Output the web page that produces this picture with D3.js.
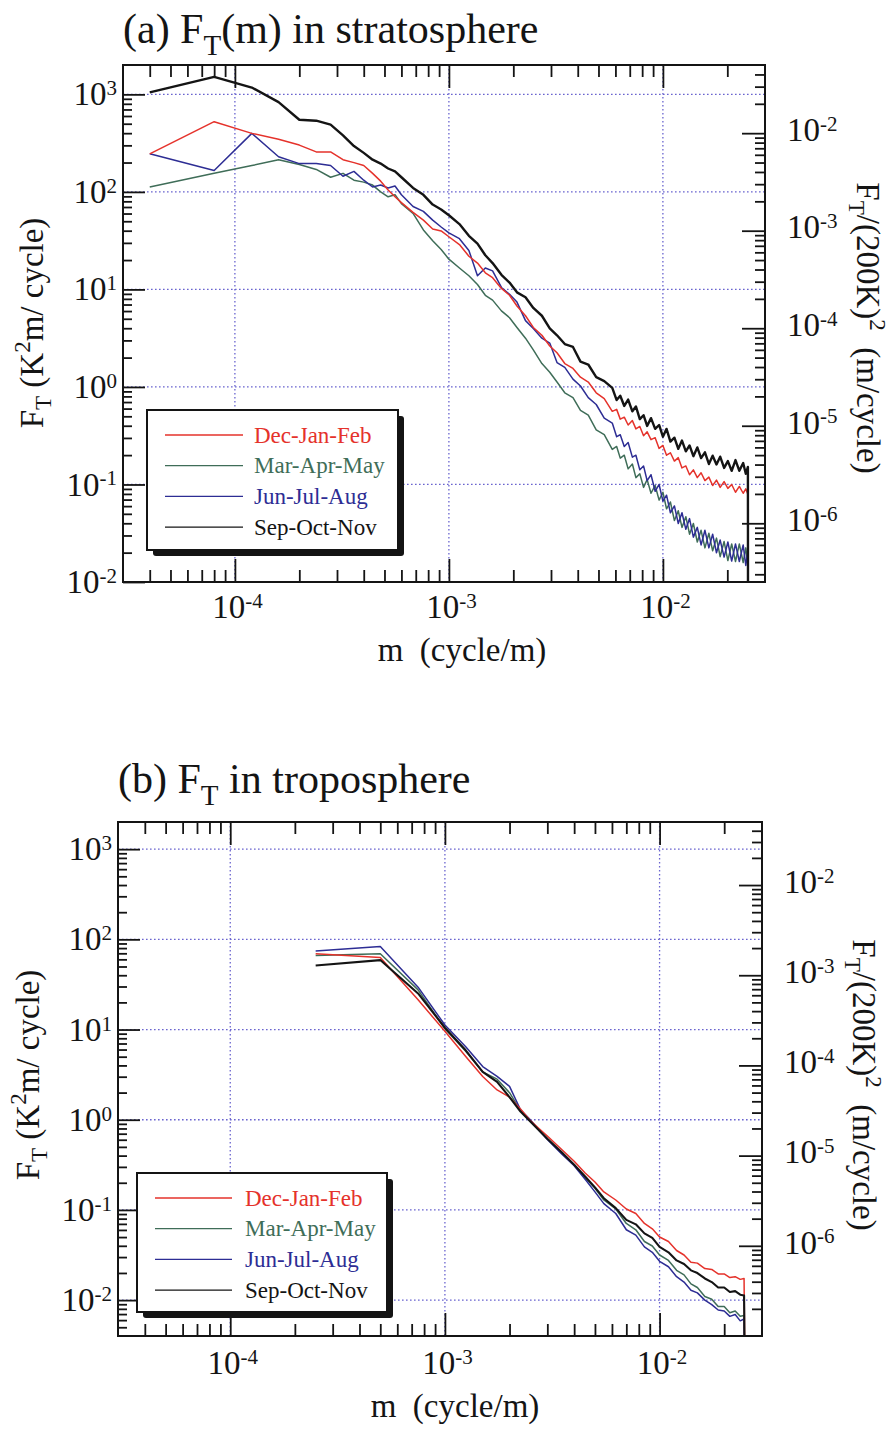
<!DOCTYPE html>
<html lang="en">
<head>
<meta charset="UTF-8" />
<title>F_T(m) in stratosphere and troposphere</title>
<script src="https://cdn.jsdelivr.net/npm/d3@7"></script>
<style>
  html, body { margin: 0; padding: 0; background: #fff; }
  svg { display: block; }
  text { font-family: "Liberation Serif", "Times New Roman", serif; fill: #141414; white-space: pre; }
</style>
</head>
<body>
<script>
// Seasons, in legend order
const seasons = ["Dec-Jan-Feb", "Mar-Apr-May", "Jun-Jul-Aug", "Sep-Oct-Nov"];
const seasonColors = ["#e5322b", "#3f6d58", "#2d2d94", "#141414"];
const drawOrder = [1, 2, 0, 3];   // MAM, JJA, DJF, SON on top

// (a) stratosphere: m = k * 4e-5 cycle/m, values are log10 F_T (K^2 m/cycle)
const stratDm = 4e-5;
const stratK = [1, 2, 3, 4, 5, 6, 7, 8, 9, 10, 11, 12, 13, 14, 15, 17, 19, 21, 23, 25,
  28, 31, 34, 37, 40, 44, 48, 52, 57, 62, 68, 74, 80, 87, 95, 103, 112, 122, 133,
  145, 152, 158, 165, 172, 180, 187, 195, 203, 211, 220, 230, 240, 250, 260, 271, 283, 295, 307,
  320, 333, 347, 362, 377, 393, 410, 427, 445, 463, 483, 503, 524, 546, 569, 593, 610, 624, 625];
const stratDJF = [2.39, 2.72, 2.60, 2.54, 2.48, 2.41, 2.41, 2.33, 2.30, 2.27, 2.19, 2.11, 2.02, 1.95, 1.89, 1.79, 1.71, 1.62, 1.60, 1.54,
  1.46, 1.34, 1.27, 1.17, 1.12, 1.01, 0.94, 0.83, 0.73, 0.61, 0.53, 0.42, 0.35, 0.24, 0.19, 0.10, 0.05, -0.06, -0.12,
  -0.25, -0.23, -0.33, -0.31, -0.39, -0.345, -0.43, -0.405, -0.50, -0.46, -0.54, -0.52, -0.63, -0.60, -0.70, -0.675, -0.76, -0.725, -0.83,
  -0.81, -0.90, -0.85, -0.93, -0.88, -0.96, -0.925, -1.01, -0.955, -1.03, -0.97, -1.04, -1.00, -1.08, -1.02, -1.09, -1.045, -1.10, -3];
const stratMAM = [2.05, 2.19, 2.27, 2.33, 2.28, 2.23, 2.15, 2.19, 2.12, 2.10, 2.07, 2.00, 1.95, 1.97, 1.88, 1.78, 1.61, 1.50, 1.41, 1.31,
  1.22, 1.14, 1.05, 0.94, 0.89, 0.78, 0.71, 0.61, 0.50, 0.38, 0.24, 0.15, 0.05, -0.06, -0.11, -0.24, -0.29, -0.44, -0.49,
  -0.64, -0.61, -0.73, -0.70, -0.84, -0.79, -0.93, -0.89, -1.03, -0.95, -1.09, -1.01, -1.16, -1.08, -1.25, -1.18, -1.37, -1.27, -1.44,
  -1.33, -1.51, -1.40, -1.59, -1.47, -1.65, -1.50, -1.68, -1.55, -1.74, -1.585, -1.78, -1.61, -1.79, -1.61, -1.80, -1.65, -1.83, -3];
const stratJJA = [2.39, 2.22, 2.60, 2.36, 2.29, 2.29, 2.27, 2.16, 2.21, 2.12, 2.05, 2.07, 2.04, 2.06, 1.97, 1.85, 1.80, 1.71, 1.64, 1.58,
  1.52, 1.40, 1.14, 1.22, 1.19, 1.02, 0.95, 0.87, 0.68, 0.60, 0.50, 0.45, 0.25, 0.20, 0.08, 0.01, -0.11, -0.18, -0.32,
  -0.37, -0.51, -0.49, -0.61, -0.57, -0.72, -0.70, -0.85, -0.81, -0.96, -0.90, -1.07, -1.00, -1.17, -1.11, -1.29, -1.22, -1.40, -1.29,
  -1.46, -1.35, -1.54, -1.44, -1.62, -1.47, -1.65, -1.51, -1.70, -1.57, -1.745, -1.59, -1.785, -1.61, -1.79, -1.62, -1.83, -1.68, -3];
const stratSON = [3.02, 3.18, 3.07, 2.92, 2.74, 2.73, 2.69, 2.58, 2.47, 2.40, 2.33, 2.29, 2.24, 2.21, 2.15, 2.04, 1.97, 1.87, 1.82, 1.76,
  1.67, 1.55, 1.47, 1.35, 1.27, 1.15, 1.07, 0.97, 0.92, 0.81, 0.73, 0.60, 0.53, 0.44, 0.41, 0.26, 0.23, 0.10, 0.06,
  -0.01, -0.135, -0.09, -0.195, -0.13, -0.25, -0.20, -0.33, -0.29, -0.40, -0.32, -0.43, -0.39, -0.51, -0.43, -0.56, -0.52, -0.635, -0.55,
  -0.66, -0.60, -0.71, -0.62, -0.73, -0.67, -0.79, -0.705, -0.795, -0.715, -0.83, -0.76, -0.86, -0.75, -0.86, -0.78, -0.89, -0.82, -3];

// (b) troposphere: m = k * 2.5e-4 cycle/m, values are log10 F_T
const tropDm = 2.5e-4;
const tropK = [1, 2, 3, 4, 5, 6, 7, 8, 9, 10, 11, 12, 14, 16, 18, 20, 22, 25, 28, 31,
  34, 37, 40, 44, 48, 52, 56, 60, 65, 70, 75, 80, 85, 90, 95, 99, 100];
const tropDJF = [1.84, 1.80, 1.33, 0.98, 0.70, 0.48, 0.33, 0.25, 0.12, -0.01, -0.10, -0.18, -0.33, -0.46, -0.59, -0.69, -0.80, -0.89, -0.99, -1.04,
  -1.15, -1.21, -1.30, -1.35, -1.45, -1.50, -1.58, -1.59, -1.65, -1.66, -1.71, -1.71, -1.75, -1.74, -1.77, -1.76, -3];
const tropMAM = [1.82, 1.84, 1.44, 1.01, 0.76, 0.53, 0.45, 0.30, 0.10, -0.02, -0.12, -0.21, -0.37, -0.50, -0.64, -0.76, -0.89, -0.99, -1.15, -1.22,
  -1.35, -1.40, -1.50, -1.56, -1.67, -1.72, -1.82, -1.86, -1.96, -1.99, -2.07, -2.07, -2.14, -2.12, -2.18, -2.17, -3];
const tropJJA = [1.87, 1.92, 1.47, 1.05, 0.81, 0.59, 0.48, 0.37, 0.11, 0.00, -0.12, -0.22, -0.38, -0.51, -0.66, -0.80, -0.93, -1.04, -1.22, -1.28,
  -1.41, -1.47, -1.57, -1.63, -1.74, -1.80, -1.89, -1.92, -2.00, -2.05, -2.11, -2.12, -2.18, -2.16, -2.23, -2.21, -3];
const tropSON = [1.71, 1.77, 1.40, 1.02, 0.77, 0.53, 0.42, 0.25, 0.09, -0.02, -0.12, -0.21, -0.36, -0.50, -0.63, -0.75, -0.87, -0.98, -1.11, -1.16,
  -1.26, -1.31, -1.41, -1.47, -1.56, -1.60, -1.67, -1.70, -1.76, -1.80, -1.86, -1.86, -1.91, -1.90, -1.94, -1.95, -3];

// axes
const xDomain = [3e-5, 3e-2];
const normK2 = 40000;   // (200 K)^2 for the right-hand axis

const W = 894, H = 1429;
const svg = d3.select("body").append("svg").attr("width", W).attr("height", H);

const panels = [
  { id: "a", left: 123, right: 765, top: 65, bottom: 582, yDomain: [0.01, 2000],
    title: ["(a) F", "T", "(m) in stratosphere"], titleY: 43,
    k: stratK, dm: stratDm, series: [stratDJF, stratMAM, stratJJA, stratSON], widths: [1.5, 1.5, 1.5, 2.4],
    legend: { x: 147, y: 410, w: 251, h: 140, row0: 435, dy: 30.7, lx0: 165, lx1: 243, tx: 254 },
    yLabelX: 43, yLabelY: 323, rLabelX: 857, rLabelY: 328, xLabelX: 462, xLabelY: 661 },
  { id: "b", left: 118, right: 762, top: 822, bottom: 1336, yDomain: [0.004, 2000],
    title: ["(b) F", "T", " in troposphere"], titleY: 793,
    k: tropK, dm: tropDm, series: [tropDJF, tropMAM, tropJJA, tropSON], widths: [1.5, 1.5, 1.5, 2.1],
    legend: { x: 137, y: 1173, w: 250, h: 139, row0: 1198, dy: 30.7, lx0: 155, lx1: 232, tx: 245 },
    yLabelX: 39, yLabelY: 1075, rLabelX: 853, rLabelY: 1085, xLabelX: 455, xLabelY: 1417 }
];

const isDecade = v => Math.abs(Math.log10(v) - Math.round(Math.log10(v))) < 1e-6;

// "10" with a superscript exponent inside an axis tick label
function powerLabel(sel) {
  sel.each(function (d) {
    const t = d3.select(this).text(null);
    const e = Math.round(Math.log10(d));
    t.append("tspan").text("10");
    t.append("tspan").attr("dy", "-0.48em").attr("font-size", 21).text(e < 0 ? "-" + (-e) : String(e));
  });
}

function styleAxis(g) {
  g.select(".domain").remove();
  g.attr("font-family", null).attr("font-size", null).attr("color", "#141414");
  g.selectAll("line").attr("stroke-width", 1.8);
  g.selectAll("text").attr("font-size", 33);
}

panels.forEach(p => {
  const x = d3.scaleLog().domain(xDomain).range([p.left, p.right]);
  const y = d3.scaleLog().domain(p.yDomain).range([p.bottom, p.top]);
  const yR = d3.scaleLog().domain(p.yDomain.map(v => v / normK2)).range([p.bottom, p.top]);
  const g = svg.append("g");
  const inX = v => v > xDomain[0] * 1.001 && v < xDomain[1] * 0.999;
  const inY = v => v > p.yDomain[0] * 1.001 && v < p.yDomain[1] * 0.999;
  const inYR = v => v > yR.domain()[0] * 1.001 && v < yR.domain()[1] * 0.999;

  // dotted grid at the decades
  g.append("g").selectAll("line").data(x.ticks().filter(v => isDecade(v) && inX(v))).join("line")
    .attr("x1", d => x(d)).attr("x2", d => x(d)).attr("y1", p.top).attr("y2", p.bottom);
  g.append("g").selectAll("line").data(y.ticks().filter(v => isDecade(v) && inY(v))).join("line")
    .attr("x1", p.left).attr("x2", p.right).attr("y1", d => y(d)).attr("y2", d => y(d));
  g.selectAll("g line").attr("stroke", "#6a64cf").attr("stroke-width", 1.3).attr("stroke-dasharray", "1.6,2.4");

  // spectra
  g.append("clipPath").attr("id", "clip-" + p.id).append("rect")
    .attr("x", p.left).attr("y", p.top).attr("width", p.right - p.left).attr("height", p.bottom - p.top);
  const line = d3.line().x(d => x(d.m)).y(d => y(d.f));
  drawOrder.forEach(si => {
    const pts = p.k.map((k, i) => ({ m: k * p.dm, f: Math.pow(10, p.series[si][i]) }));
    g.append("path").datum(pts)
      .attr("clip-path", "url(#clip-" + p.id + ")")
      .attr("fill", "none").attr("stroke", seasonColors[si]).attr("stroke-width", p.widths[si])
      .attr("stroke-linejoin", "round").attr("d", line);
  });

  // ticks: bottom / top
  const xMinor = x.ticks().filter(v => !isDecade(v) && inX(v));
  const xMajor = x.ticks().filter(v => isDecade(v) && inX(v));
  g.append("g").attr("transform", `translate(0,${p.bottom})`)
    .call(d3.axisBottom(x).tickValues(xMinor).tickSize(-12).tickFormat("")).call(styleAxis);
  const bx = g.append("g").attr("transform", `translate(0,${p.bottom})`)
    .call(d3.axisBottom(x).tickValues(xMajor).tickSize(-23)).call(styleAxis);
  bx.selectAll("text").attr("y", p.id === "a" ? 36 : 38).attr("dy", 0).attr("dx", 2).call(powerLabel);
  g.append("g").attr("transform", `translate(0,${p.top})`)
    .call(d3.axisTop(x).tickValues(xMinor).tickSize(-12).tickFormat("")).call(styleAxis);
  g.append("g").attr("transform", `translate(0,${p.top})`)
    .call(d3.axisTop(x).tickValues(xMajor).tickSize(-23).tickFormat("")).call(styleAxis);

  // ticks: left (F_T)
  const yMinor = y.ticks().filter(v => !isDecade(v) && inY(v));
  const yMajor = y.ticks().filter(isDecade);
  g.append("g").attr("transform", `translate(${p.left},0)`)
    .call(d3.axisLeft(y).tickValues(yMinor).tickSize(-9).tickFormat("")).call(styleAxis);
  const ly = g.append("g").attr("transform", `translate(${p.left},0)`)
    .call(d3.axisLeft(y).tickValues(yMajor).tickSize(-22).tickPadding(6)).call(styleAxis);
  ly.selectAll("text").call(powerLabel);

  // ticks: right (F_T / (200K)^2)
  const rMinor = yR.ticks().filter(v => !isDecade(v) && inYR(v));
  const rMajor = yR.ticks().filter(v => isDecade(v) && inYR(v));
  g.append("g").attr("transform", `translate(${p.right},0)`)
    .call(d3.axisRight(yR).tickValues(rMinor).tickSize(-10).tickFormat("")).call(styleAxis);
  const ry = g.append("g").attr("transform", `translate(${p.right},0)`)
    .call(d3.axisRight(yR).tickValues(rMajor).tickSize(-23).tickPadding(22)).call(styleAxis);
  ry.selectAll("text").attr("dy", "0.22em").call(powerLabel);

  // frame
  g.append("rect").attr("x", p.left).attr("y", p.top)
    .attr("width", p.right - p.left).attr("height", p.bottom - p.top)
    .attr("fill", "none").attr("stroke", "#141414").attr("stroke-width", 2);

  // legend with drop shadow
  const L = p.legend;
  g.append("rect").attr("x", L.x + 6).attr("y", L.y + 6).attr("width", L.w).attr("height", L.h)
    .attr("rx", 3).attr("fill", "#141414");
  g.append("rect").attr("x", L.x).attr("y", L.y).attr("width", L.w).attr("height", L.h)
    .attr("fill", "#fff").attr("stroke", "#141414").attr("stroke-width", 2);
  seasons.forEach((s, i) => {
    const ry0 = L.row0 + i * L.dy;
    g.append("line").attr("x1", L.lx0).attr("x2", L.lx1).attr("y1", ry0).attr("y2", ry0)
      .attr("stroke", seasonColors[i]).attr("stroke-width", 1.3);
    g.append("text").attr("x", L.tx).attr("y", ry0 + 7.5).attr("font-size", 23)
      .style("fill", seasonColors[i]).text(s);
  });

  // title
  const t = g.append("text").attr("x", p.left).attr("y", p.titleY).attr("font-size", 42);
  t.append("tspan").text(p.title[0]);
  t.append("tspan").attr("dy", 12).attr("font-size", 29).text(p.title[1]);
  t.append("tspan").attr("dy", -12).text(p.title[2]);

  // left axis title
  const yl = g.append("text").attr("transform", `translate(${p.yLabelX},${p.yLabelY}) rotate(-90)`)
    .attr("text-anchor", "middle").attr("font-size", 33);
  yl.append("tspan").text("F");
  yl.append("tspan").attr("dy", 8).attr("font-size", 23).text("T");
  yl.append("tspan").attr("dy", -8).text(" (K");
  yl.append("tspan").attr("dy", -13).attr("font-size", 23).text("2");
  yl.append("tspan").attr("dy", 13).text("m/ cycle)");

  // right axis title
  const rl = g.append("text").attr("transform", `translate(${p.rLabelX},${p.rLabelY}) rotate(90)`)
    .attr("text-anchor", "middle").attr("font-size", 33);
  rl.append("tspan").text("F");
  rl.append("tspan").attr("dy", 8).attr("font-size", 23).text("T");
  rl.append("tspan").attr("dy", -8).text("/(200K)");
  rl.append("tspan").attr("dy", -13).attr("font-size", 23).text("2");
  rl.append("tspan").attr("dy", 13).text("  (m/cycle)");

  // x axis title
  g.append("text").attr("x", p.xLabelX).attr("y", p.xLabelY).attr("text-anchor", "middle")
    .attr("font-size", 33).text("m  (cycle/m)");
});
</script>
</body>
</html>
